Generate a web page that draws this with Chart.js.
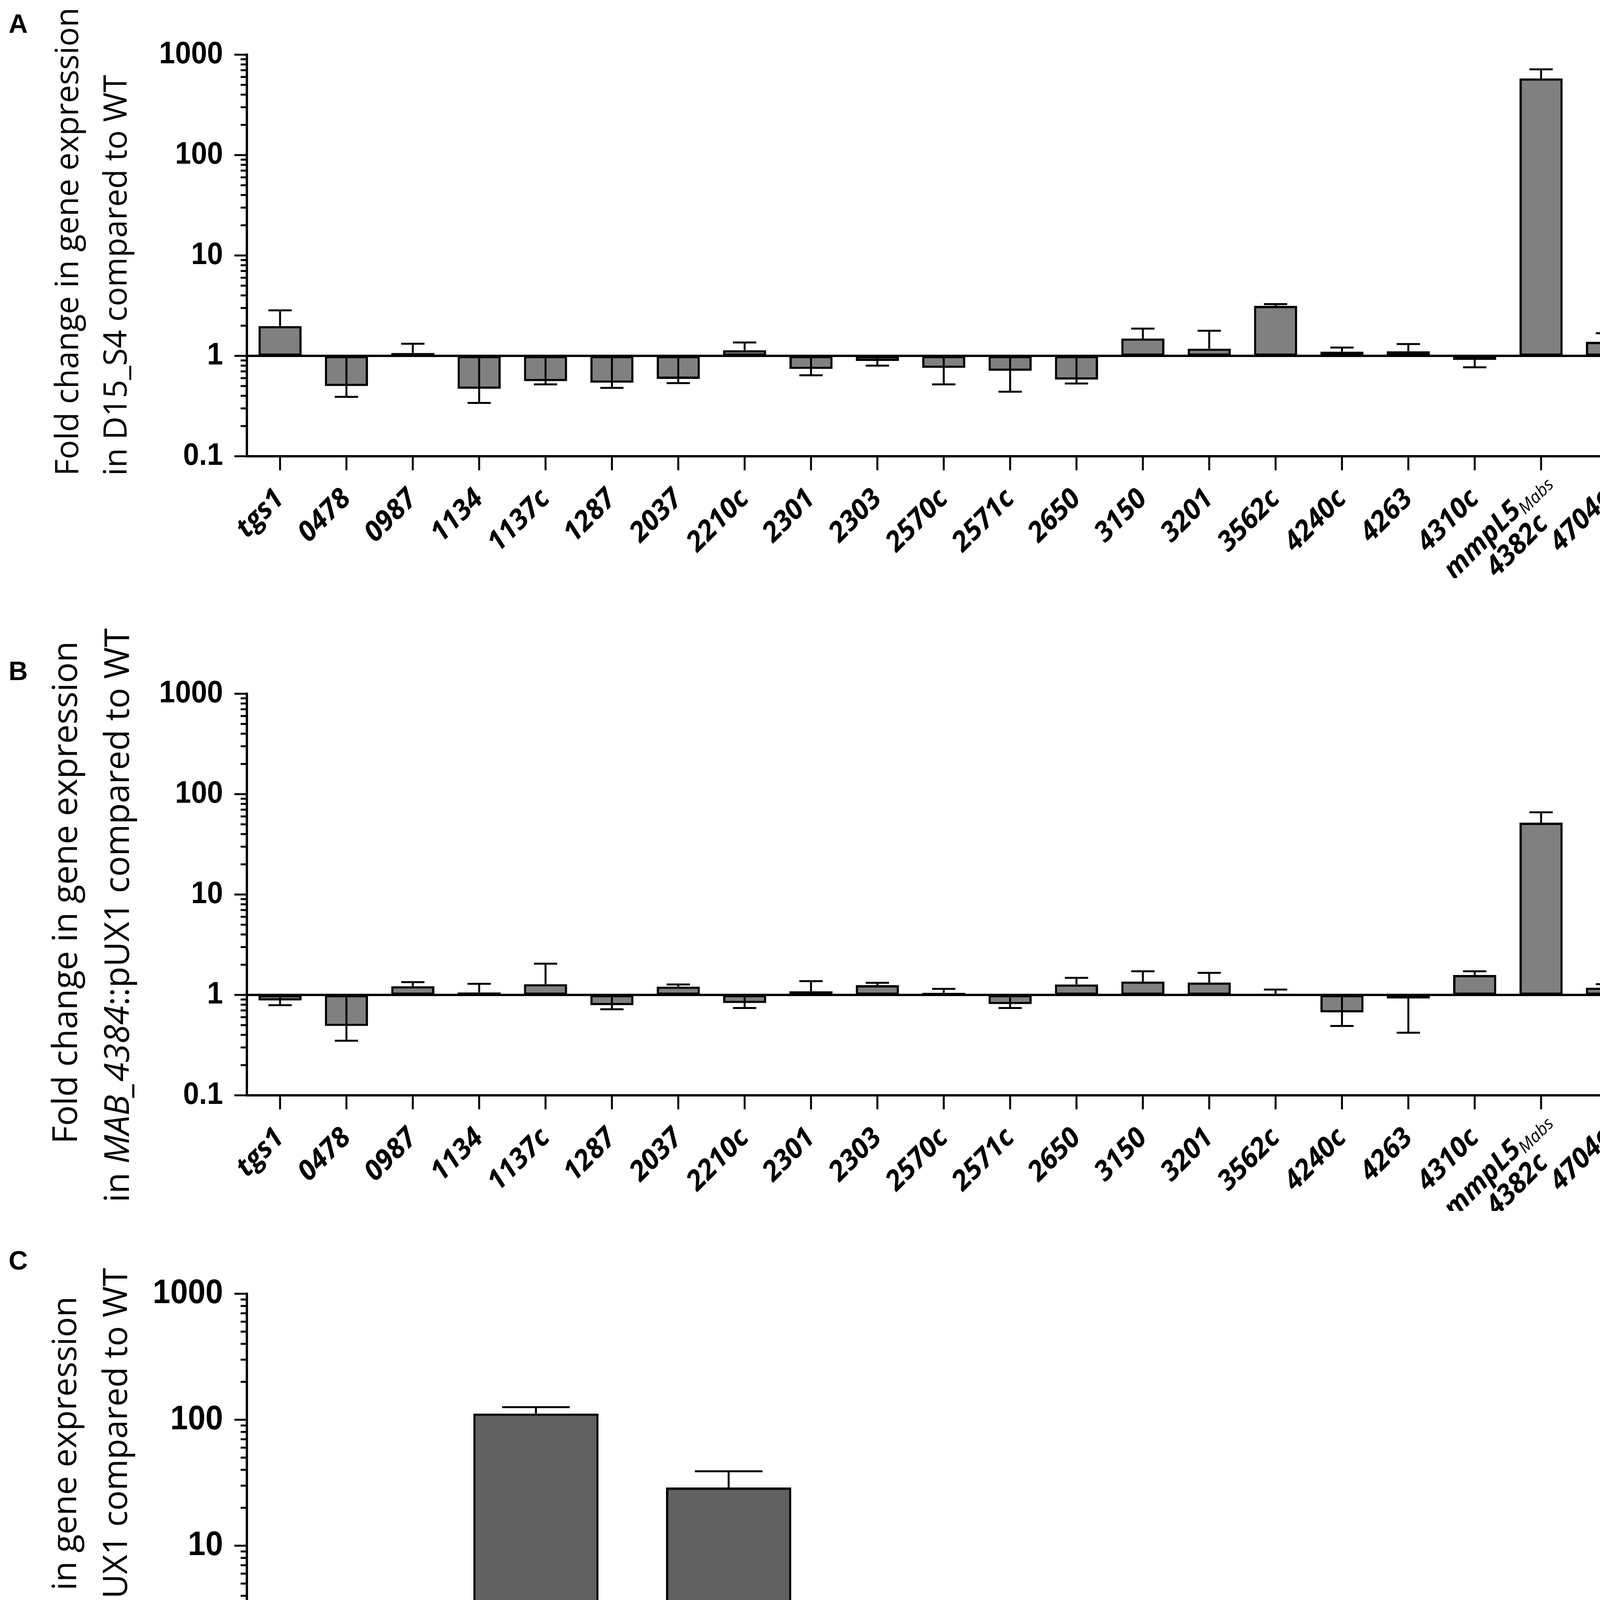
<!DOCTYPE html>
<html>
<head>
<meta charset="utf-8">
<script src="https://cdn.jsdelivr.net/npm/chart.js@4.4.1/dist/chart.umd.min.js"></script>
<style>
  html, body { margin: 0; padding: 0; background: #fff; }
  body { width: 4206px; height: 4884px; position: relative; overflow: hidden; }
  canvas { position: absolute; left: 0; }
</style>
</head>
<body>
<canvas id="chart_a" width="4206" height="1480" style="top:0px"></canvas>
<canvas id="chart_b" width="4206" height="1620" style="top:1480px"></canvas>
<canvas id="chart_c" width="2300" height="1784" style="top:3100px"></canvas>
<script>
// genes on the x axis of A and B; "_{..}" marks a subscript, "\n" a second line
const geneLabels = ['tgs1', '0478', '0987', '1134', '1137c', '1287', '2037', '2210c', '2301', '2303',
    '2570c', '2571c', '2650', '3150', '3201', '3562c', '4240c', '4263', '4310c',
    'mmpL5_{Mabs}\n4382c', '4704c'];
const yTicks = [0.1, 1, 10, 100, 1000];
const yTickLabels = ['0.1', '1', '10', '100', '1000'];

// A: D15_S4 vs WT (fold change, and the end of the error bar)
const foldD15 = [1.98, 0.50, 1.07, 0.47, 0.56, 0.54, 0.59, 1.14, 0.74, 0.89,
    0.76, 0.71, 0.58, 1.49, 1.18, 3.15, 1.10, 1.11, 0.91, 580, 1.38];
const errEndD15 = [2.84, 0.39, 1.32, 0.34, 0.52, 0.48, 0.535, 1.36, 0.64, 0.80,
    0.52, 0.44, 0.53, 1.87, 1.78, 3.28, 1.21, 1.31, 0.77, 714, 1.68];

// B: MAB_4384::pUX1 vs WT
const foldPux1 = [0.88, 0.49, 1.22, 1.06, 1.28, 0.79, 1.21, 0.83, 1.09, 1.25,
    1.05, 0.81, 1.27, 1.36, 1.33, 1.03, 0.67, 0.92, 1.58, 52, 1.18];
const errEndPux1 = [0.79, 0.35, 1.34, 1.29, 2.05, 0.72, 1.27, 0.74, 1.37, 1.32,
    1.15, 0.74, 1.48, 1.72, 1.66, 1.13, 0.49, 0.42, 1.72, 66, 1.28];

// C: selected genes, MAB_4384::pUX1 vs WT
const selectedLabels = ['tgs1', 'mmpL5_{Mabs}\n4382c', 'tetR_{Mabs}\n4384'];
const foldSelected = [0.50, 112, 29];
const errEndSelected = [0.44, 126, 39];

const titleFont = "'Open Sans', 'DejaVu Sans', sans-serif";
const tickFont = "'Liberation Sans', Arial, sans-serif";

function parseSegments(line) {
    const segs = [];
    const re = /_\{([^}]*)\}/g;
    let last = 0, m;
    while ((m = re.exec(line)) !== null) {
        if (m.index > last) segs.push({ t: line.slice(last, m.index), sub: false });
        segs.push({ t: m[1], sub: true });
        last = re.lastIndex;
    }
    if (last < line.length) segs.push({ t: line.slice(last), sub: false });
    return segs;
}

function drawGeneLabel(ctx, text, px, py, size) {
    const mainFont = 'italic bold ' + size + 'px ' + titleFont;
    const subFont = 'italic ' + Math.round(size * 0.62) + 'px ' + titleFont;
    const lines = text.split('\n').map(parseSegments);
    const widths = lines.map((segs) => segs.reduce((w, s) => {
        ctx.font = s.sub ? subFont : mainFont;
        return w + ctx.measureText(s.t).width;
    }, 0));
    const maxW = Math.max(...widths);
    const minW = Math.min(...widths);
    const center = -(maxW + minW) / 4;
    const lh = size * 1.02;
    const shift = lines.length > 1 ? size * 0.2 : 0;
    ctx.save();
    ctx.translate(px, py);
    ctx.rotate(-Math.PI / 4);
    ctx.fillStyle = '#000';
    ctx.textAlign = 'left';
    ctx.textBaseline = 'middle';
    lines.forEach((segs, k) => {
        let x = center - widths[k] / 2;
        const y = (k - (lines.length - 1) / 2) * lh + shift;
        segs.forEach((s) => {
            ctx.font = s.sub ? subFont : mainFont;
            ctx.fillText(s.t, x, s.sub ? y + size * 0.25 : y);
            x += ctx.measureText(s.t).width;
        });
    });
    ctx.restore();
}

function drawTitleLine(ctx, parts, x, y, size) {
    ctx.save();
    ctx.translate(x, y);
    ctx.rotate(-Math.PI / 2);
    ctx.fillStyle = '#000';
    ctx.textAlign = 'left';
    ctx.textBaseline = 'alphabetic';
    let pos = 0;
    parts.forEach((p) => {
        ctx.font = (p.italic ? 'italic ' : '') + size + 'px ' + titleFont;
        ctx.fillText(p.t, pos, 0);
        pos += ctx.measureText(p.t).width;
    });
    ctx.restore();
}

function makePanel(canvasId, cfg) {
    const canvas = document.getElementById(canvasId);
    const decor = {
        id: 'decor_' + canvasId,
        afterDatasetsDraw(chart) {
            const ctx = chart.ctx;
            const area = chart.chartArea;
            const yScale = chart.scales.y;
            ctx.save();
            ctx.strokeStyle = '#000';
            ctx.lineCap = 'butt';
            const y1 = yScale.getPixelForValue(1);
            ctx.lineWidth = 6;
            ctx.beginPath();
            ctx.moveTo(area.left, y1);
            ctx.lineTo(area.right, y1);
            ctx.stroke();
            ctx.lineWidth = 5;
            chart.getDatasetMeta(0).data.forEach((bar, i) => {
                const ye = yScale.getPixelForValue(cfg.errorEnds[i]);
                const half = bar.width * 0.54 / 2;
                ctx.beginPath();
                ctx.moveTo(bar.x, bar.y);
                ctx.lineTo(bar.x, ye);
                ctx.moveTo(bar.x - half, ye);
                ctx.lineTo(bar.x + half, ye);
                ctx.stroke();
            });
            ctx.restore();
        },
        afterDraw(chart) {
            const ctx = chart.ctx;
            const area = chart.chartArea;
            const xScale = chart.scales.x;
            const yScale = chart.scales.y;
            ctx.save();
            ctx.strokeStyle = '#000';
            ctx.lineWidth = 5;
            ctx.beginPath();
            // y axis: long marks at decades, short ones in between
            yTicks.forEach((v, k) => {
                const py = yScale.getPixelForValue(v);
                ctx.moveTo(area.left - 32, py);
                ctx.lineTo(area.left, py);
                if (k < yTicks.length - 1) {
                    for (let m = 2; m < 10; m++) {
                        const pm = yScale.getPixelForValue(v * m);
                        ctx.moveTo(area.left - 16, pm);
                        ctx.lineTo(area.left, pm);
                    }
                }
            });
            // x axis marks
            cfg.labels.forEach((lab, i) => {
                const px = xScale.getPixelForValue(i);
                ctx.moveTo(px, area.bottom);
                ctx.lineTo(px, area.bottom + 36);
            });
            ctx.stroke();
            ctx.restore();

            // decade labels, bold and a little condensed
            ctx.save();
            ctx.fillStyle = '#000';
            ctx.font = 'bold ' + cfg.tickSize + 'px ' + tickFont;
            ctx.textAlign = 'right';
            ctx.textBaseline = 'middle';
            yTicks.forEach((v, k) => {
                const py = yScale.getPixelForValue(v);
                ctx.save();
                ctx.translate(area.left - 61, py);
                ctx.scale(0.92, 1);
                ctx.fillText(yTickLabels[k], 0, 0);
                ctx.restore();
            });
            ctx.restore();

            cfg.labels.forEach((lab, i) => {
                const px = xScale.getPixelForValue(i);
                drawGeneLabel(ctx, lab, px + cfg.labelDx, area.bottom + cfg.labelDy, cfg.labelSize);
            });

            cfg.title.forEach((line) => {
                drawTitleLine(ctx, line.parts, line.x, line.y, cfg.titleSize);
            });

            ctx.save();
            ctx.fillStyle = '#000';
            ctx.font = 'bold 68px ' + tickFont;
            ctx.textAlign = 'left';
            ctx.textBaseline = 'alphabetic';
            ctx.fillText(cfg.letter, 22, cfg.letterY);
            ctx.restore();
        }
    };

    return new Chart(canvas, {
        type: 'bar',
        data: {
            labels: cfg.labels,
            datasets: [{
                data: cfg.values.map((v) => [1, v]),
                backgroundColor: cfg.color,
                borderColor: '#000',
                borderWidth: 6,
                borderSkipped: false,
                barPercentage: 0.65,
                categoryPercentage: 1.0,
            }],
        },
        options: {
            responsive: false,
            devicePixelRatio: 1,
            animation: false,
            layout: {
                padding: { top: cfg.top, right: cfg.right, bottom: 0, left: 0 },
            },
            plugins: {
                legend: { display: false },
                tooltip: { enabled: false },
            },
            scales: {
                x: {
                    type: 'category',
                    offset: true,
                    grid: { display: false },
                    border: { display: true, width: 6, color: '#000' },
                    ticks: { display: false },
                    afterFit: (scale) => { scale.height = canvas.height - cfg.bottom; },
                },
                y: {
                    type: 'logarithmic',
                    min: 0.1,
                    max: 1000,
                    grid: { display: false },
                    border: { display: true, width: 6, color: '#000' },
                    afterBuildTicks: (scale) => { scale.ticks = yTicks.map((v) => ({ value: v })); },
                    ticks: { display: false },
                    afterFit: (scale) => { scale.width = 632; },
                },
            },
        },
        plugins: [decor],
    });
}

const fold = 'Fold change in gene expression';
const puxLine = [{ t: 'in ' }, { t: 'MAB_4384', italic: true }, { t: '::pUX1 compared to WT' }];

makePanel('chart_a', {
    letter: 'A', letterY: 84,
    labels: geneLabels, values: foldD15, errorEnds: errEndD15, color: '#808080',
    top: 140, bottom: 1168, right: 6,
    tickSize: 80, labelSize: 71, labelDx: 0, labelDy: 98,
    titleSize: 82,
    title: [
        { parts: [{ t: fold }], x: 200, y: 1218 },
        { parts: [{ t: 'in D15_S4 compared to WT' }], x: 324, y: 1218 },
    ],
});

makePanel('chart_b', {
    letter: 'B', letterY: 261,
    labels: geneLabels, values: foldPux1, errorEnds: errEndPux1, color: '#808080',
    top: 296, bottom: 1324, right: 6,
    tickSize: 80, labelSize: 71, labelDx: 0, labelDy: 98,
    titleSize: 88,
    title: [
        { parts: [{ t: fold }], x: 197, y: 1448 },
        { parts: puxLine, x: 330, y: 1598 },
    ],
});

makePanel('chart_c', {
    letter: 'C', letterY: 150,
    labels: selectedLabels, values: foldSelected, errorEnds: errEndSelected, color: '#606060',
    top: 212, bottom: 1502, right: 188,
    tickSize: 88, labelSize: 77, labelDx: 4, labelDy: 106,
    titleSize: 86,
    title: [
        { parts: [{ t: fold }], x: 195, y: 1476 },
        { parts: puxLine, x: 325, y: 1582 },
    ],
});
</script>
</body>
</html>
